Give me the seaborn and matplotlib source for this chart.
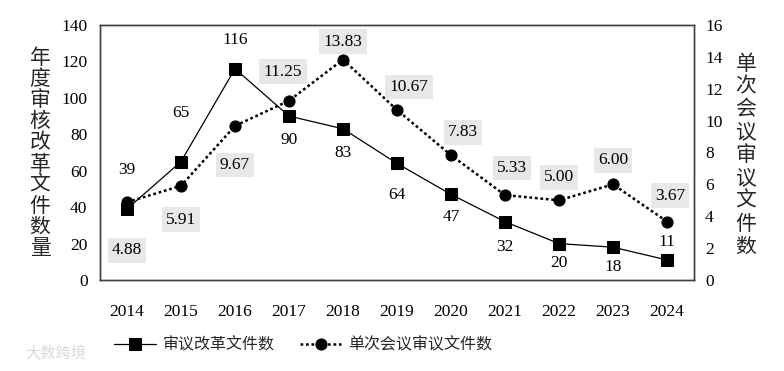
import matplotlib
matplotlib.use("Agg")
import matplotlib.pyplot as plt
import numpy as np
import pandas as pd
import seaborn as sns

years = ["2014", "2015", "2016", "2017", "2018", "2019", "2020", "2021", "2022", "2023", "2024"]
reform_docs = [39, 65, 116, 90, 83, 64, 47, 32, 20, 18, 11]
docs_per_meeting = [4.88, 5.91, 9.67, 11.25, 13.83, 10.67, 7.83, 5.33, 5.00, 6.00, 3.67]

series_names = ["审议改革文件数", "单次会议审议文件数"]
left_label = "年度审核改革文件数量"
right_label = "单次会议审议文件数"

# label offsets in pixels (dx, dy) relative to each point
docs_offsets = [(0, 39), (0, 49), (0, 29), (0, -24), (0, -24), (0, -32),
                (0, -23), (0, -25), (0, -19), (0, -20), (0, 18)]
per_offsets = [(0, -48), (0, -34), (0, -39), (-6, 29), (0, 18), (12, 23),
               (12, 23), (7, 27), (0, 23), (0, 24), (3, 26)]

sns.set_theme(style="white")
plt.rcParams["font.family"] = ["Liberation Serif", "Noto Sans CJK SC"]
cjk = ["Noto Sans CJK SC", "DejaVu Sans"]

df = pd.DataFrame({"year": years, "docs": reform_docs, "per": docs_per_meeting})

fig = plt.figure(figsize=(7.84, 3.71), dpi=100)
ax = fig.add_axes([100 / 784, 1 - 280 / 371, 594 / 784, 255 / 371])
ax2 = ax.twinx()

sns.lineplot(data=df, x="year", y="docs", ax=ax, color="black", linewidth=0.9,
             marker="s", markersize=8, markeredgecolor="black", markerfacecolor="black")
sns.lineplot(data=df, x="year", y="per", ax=ax2, color="black", linewidth=1.8,
             linestyle=(0, (1.1, 1.1)), marker="o", markersize=8,
             markeredgecolor="black", markerfacecolor="black")

ax.set_xlim(-0.5, len(years) - 0.5)
ax.set_ylim(0, 140)
ax.set_yticks(np.arange(0, 141, 20))
ax2.set_ylim(0, 16)
ax2.set_yticks(np.arange(0, 17, 2))
for a in (ax, ax2):
    a.set_xlabel("")
    a.set_ylabel("")
    a.tick_params(length=0, labelsize=12.5, colors="black")
    for s in a.spines.values():
        s.set_color("#404040")
        s.set_linewidth(1.0)
ax.tick_params(axis="y", pad=9)
ax.tick_params(axis="x", pad=17)
ax2.tick_params(axis="y", pad=8)

px = 72 / fig.dpi
for yr, v, (dx, dy) in zip(years, reform_docs, docs_offsets):
    ax.annotate(str(v), xy=(yr, v), xytext=(dx * px, dy * px), textcoords="offset points",
                ha="center", va="center", fontsize=12.5, color="black")
for yr, v, (dx, dy) in zip(years, docs_per_meeting, per_offsets):
    ax2.annotate(f"{v:.2f}", xy=(yr, v), xytext=(dx * px, dy * px), textcoords="offset points",
                 ha="center", va="center", fontsize=12.5, color="black",
                 bbox=dict(boxstyle="square,pad=0.25", facecolor="#e8e8e8", edgecolor="none"))

fig.text(40 / 784, 1 - 153 / 371, "\n".join(left_label), ha="center", va="center",
         fontsize=15, family=cjk, linespacing=0.95)
fig.text(746 / 784, 1 - 155 / 371, "\n".join(right_label), ha="center", va="center",
         fontsize=15, family=cjk, linespacing=1.05)

fig.legend(handles=[ax.lines[0], ax2.lines[0]], labels=series_names,
           loc="center left", bbox_to_anchor=(100 / 784, 1 - 345 / 371), ncol=2,
           frameon=False, handlelength=2.6, columnspacing=1.6, handletextpad=0.4,
           prop={"family": cjk, "size": 11.5})

fig.text(25 / 784, 1 - 353 / 371, "大数跨境", ha="left", va="center", fontsize=11,
         family=cjk, color="#d9d9d9")

fig.savefig("out.png", dpi=100)
